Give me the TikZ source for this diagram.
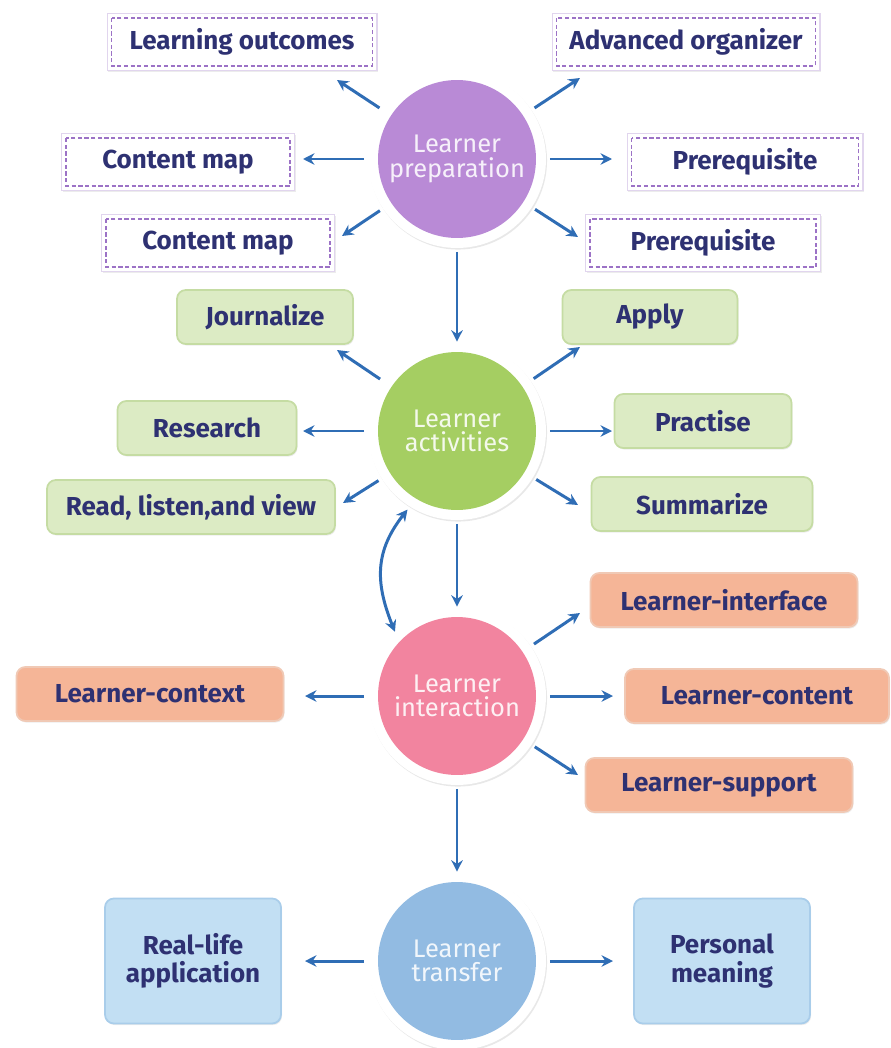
\documentclass[tikz,border=0pt]{standalone}
\usepackage{fontspec}
\setmainfont{Fira Sans}
\usetikzlibrary{arrows.meta,shadows}

\definecolor{inkblue}{HTML}{2E3172}
\definecolor{arrowblue}{HTML}{2F6DB5}
\definecolor{prepcol}{HTML}{B98AD6}
\definecolor{actcol}{HTML}{A5CE62}
\definecolor{intcol}{HTML}{F2849F}
\definecolor{trfcol}{HTML}{92BBE2}
\definecolor{prepline}{HTML}{9C72C6}
\definecolor{actfill}{HTML}{DCEBC4}
\definecolor{actline}{HTML}{C5DCA3}
\definecolor{intfill}{HTML}{F5B597}
\definecolor{intline}{HTML}{F0C9B5}
\definecolor{trffill}{HTML}{C2DFF3}
\definecolor{trfline}{HTML}{A9CDEA}

\tikzset{
  hub/.style={circle, fill=white, minimum size=3.56cm, inner sep=0pt, align=center,
    font=\fontsize{14.5}{14}\selectfont, text=white, text opacity=0.88,
    drop shadow={opacity=0.18, shadow xshift=0.6pt, shadow yshift=-0.9pt},
    path picture={\fill[#1] (path picture bounding box.center) circle (1.58cm);}},
  leaf/.style={rectangle, align=center, inner sep=2pt, minimum height=1.08cm,
    font=\bfseries\fontsize{14.8}{16}\selectfont, text=inkblue,
    drop shadow={opacity=0.15, shadow xshift=0.6pt, shadow yshift=-0.9pt}},
  prepbox/.style={leaf, fill=white, draw=prepline!30, line width=0.6pt, minimum height=1.14cm,
    path picture={\draw[prepline, line width=0.7pt, dash pattern=on 2.4pt off 1.4pt]
      ([shift={(2.6pt,-2.6pt)}]path picture bounding box.north west) rectangle
      ([shift={(-2.6pt,2.6pt)}]path picture bounding box.south east);}},
  actbox/.style={leaf, rounded corners=5pt, fill=actfill, draw=actline, line width=1pt},
  intbox/.style={leaf, rounded corners=5pt, fill=intfill, draw=intline, line width=1pt},
  trfbox/.style={leaf, rounded corners=5pt, fill=trffill, draw=trfline, line width=1pt,
    minimum width=3.52cm, minimum height=2.5cm},
  link/.style={->, draw=arrowblue, line width=1.7pt, shorten <=2pt}
}

\begin{document}
\begin{tikzpicture}[x=0.02cm, y=-0.02cm, >={Stealth[length=6.5pt,width=6.5pt]}]
  \useasboundingbox (0,0) rectangle (891,1048);

  % Circles
  \node[hub=prepcol] (prep) at (457,159) {Learner\\preparation};
  \node[hub=actcol]  (act)  at (457,431) {Learner\\activities};
  \node[hub=intcol]  (int)  at (457,696) {Learner\\interaction};
  \node[hub=trfcol]  (trf)  at (457,961) {Learner\\transfer};

  % Preparation boxes
  \node[prepbox, minimum width=5.4cm]  (lo)  at (242,42)  {Learning outcomes};
  \node[prepbox, minimum width=5.36cm] (ao)  at (686,42)  {Advanced organizer};
  \node[prepbox, minimum width=4.66cm] (cm1) at (178,162) {Content map};
  \node[prepbox, minimum width=4.72cm] (pr1) at (745,162) {Prerequisite};
  \node[prepbox, minimum width=4.66cm] (cm2) at (218,243) {Content map};
  \node[prepbox, minimum width=4.7cm]  (pr2) at (703,243) {Prerequisite};

  % Activity boxes
  \node[actbox, minimum width=3.52cm] (jo) at (265,317) {Journalize};
  \node[actbox, minimum width=3.5cm]  (ap) at (650,317) {Apply};
  \node[actbox, minimum width=3.58cm] (rs) at (207,428) {Research};
  \node[actbox, minimum width=3.54cm] (pc) at (703,421) {Practise};
  \node[actbox, minimum width=5.76cm] (rd) at (191,507) {Read, listen,and view};
  \node[actbox, minimum width=4.42cm] (su) at (702,504) {Summarize};

  % Interaction boxes
  \node[intbox, minimum width=5.34cm] (lf) at (724,600) {Learner-interface};
  \node[intbox, minimum width=5.34cm] (lx) at (150,694) {Learner-context};
  \node[intbox, minimum width=5.28cm] (lc) at (757,696) {Learner-content};
  \node[intbox, minimum width=5.34cm] (ls) at (719,785) {Learner-support};

  % Transfer boxes
  \node[trfbox] (rl) at (193,961) {Real-life\\application};
  \node[trfbox] (pm) at (722,961) {Personal\\meaning};

  % Arrow tips
  \coordinate (t-lo)  at (337,80);
  \coordinate (t-ao)  at (580,78);
  \coordinate (t-cm1) at (303,159);
  \coordinate (t-pr1) at (612,159);
  \coordinate (t-cm2) at (342,236);
  \coordinate (t-pr2) at (578,237);
  \coordinate (t-jo)  at (337,350);
  \coordinate (t-ap)  at (580,347);
  \coordinate (t-rs)  at (303,431);
  \coordinate (t-pc)  at (612,431);
  \coordinate (t-rd)  at (343,503);
  \coordinate (t-su)  at (578,505);
  \coordinate (t-lf)  at (580,613);
  \coordinate (t-lx)  at (305,696);
  \coordinate (t-lc)  at (613,696);
  \coordinate (t-ls)  at (578,775);
  \coordinate (t-rl)  at (305,961);
  \coordinate (t-pm)  at (613,961);

  % Preparation arrows
  \path (prep) edge[link] (t-lo);
  \path (prep) edge[link] (t-ao);
  \path (prep) edge[link] (t-cm1);
  \path (prep) edge[link] (t-pr1);
  \path (prep) edge[link] (t-cm2);
  \path (prep) edge[link] (t-pr2);

  % Activity arrows
  \path (act) edge[link] (t-jo);
  \path (act) edge[link] (t-ap);
  \path (act) edge[link] (t-rs);
  \path (act) edge[link] (t-pc);
  \path (act) edge[link] (t-rd);
  \path (act) edge[link] (t-su);

  % Interaction arrows
  \path (int) edge[link] (t-lf);
  \path (int) edge[link] (t-lx);
  \path (int) edge[link] (t-lc);
  \path (int) edge[link] (t-ls);

  % Transfer arrows
  \path (trf) edge[link] (t-rl);
  \path (trf) edge[link] (t-pm);

  % Main flow
  \path (prep) edge[link] (act);
  \path (act)  edge[link] (int);
  \path (int)  edge[link] (trf);
  \draw[link, <->] (act.238) .. controls +(232:1.1cm) and +(112:1.1cm) .. (int.134);
\end{tikzpicture}
\end{document}
